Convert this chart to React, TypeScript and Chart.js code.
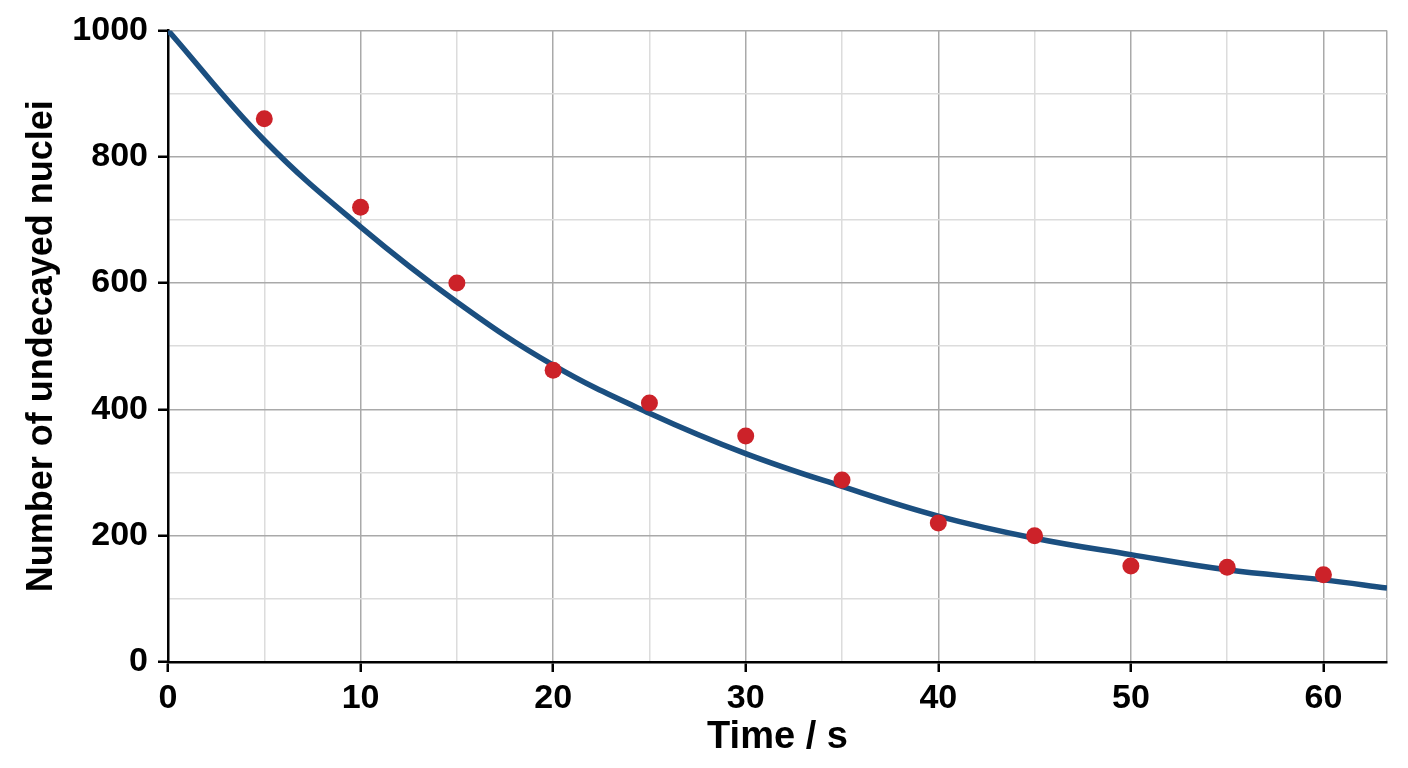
import { useEffect, useRef } from 'react';
import { Chart, registerables } from 'chart.js';

Chart.register(...registerables);

// measured decay (red dots)
const sampleTimes = [5, 10, 15, 20, 25, 30, 35, 40, 45, 50, 55, 60];
const sampleCounts = [860, 720, 600, 462, 410, 358, 288, 220, 200, 152, 150, 138];

// fitted curve
const curveTimes = [0, 5, 10, 15, 20, 25, 30, 35, 40, 45, 50, 55, 60, 63.3];
const curveCounts = [1000, 826, 689, 570, 470, 394, 330, 278, 231, 196, 170, 146, 130, 117];

const xTicks = [0, 5, 10, 15, 20, 25, 30, 35, 40, 45, 50, 55, 60];
const yTicks = [0, 100, 200, 300, 400, 500, 600, 700, 800, 900, 1000];
const xMax = 63.3;
const yMax = 1000;

const FONT = "'Liberation Sans', Arial, Helvetica, sans-serif";
const MAJOR = '#a9a9a9';
const MINOR = '#dcdcdc';

export default function App() {
  const canvasRef = useRef<HTMLCanvasElement>(null);

  useEffect(() => {
    if (!canvasRef.current) return;
    const ctx = canvasRef.current.getContext('2d');
    if (!ctx) return;

    const isMajorX = (v: number) => v % 10 === 0;
    const isMajorY = (v: number) => v % 200 === 0;

    const chart = new Chart(ctx, {
      type: 'scatter',
      data: {
        datasets: [
          {
            label: 'Measured',
            data: sampleTimes.map((t, i) => ({ x: t, y: sampleCounts[i] })),
            backgroundColor: '#cc2229',
            borderWidth: 0,
            pointRadius: 8.5,
            order: 0,
          },
          {
            label: 'Fit',
            data: curveTimes.map((t, i) => ({ x: t, y: curveCounts[i] })),
            showLine: true,
            borderColor: '#1b4f80',
            borderWidth: 5.5,
            pointRadius: 0,
            tension: 0.4,
            order: 1,
          },
        ],
      },
      options: {
        animation: false,
        responsive: false,
        maintainAspectRatio: false,
        layout: { padding: { top: 30, right: 21, left: 0, bottom: 0 } },
        plugins: {
          legend: { display: false },
          tooltip: { enabled: false },
        },
        scales: {
          x: {
            type: 'linear',
            min: 0,
            max: xMax,
            afterBuildTicks: (axis: any) => {
              axis.ticks = [...xTicks.map((v) => ({ value: v })), { value: xMax }];
            },
            afterFit: (axis: any) => {
              axis.height = 106;
            },
            border: { color: '#000', width: 2.5 },
            grid: {
              color: (c: any) => (isMajorX(c.tick.value) || c.tick.value === xMax ? MAJOR : MINOR),
              lineWidth: 1.5,
              tickLength: 10,
              tickWidth: 2.5,
              tickColor: (c: any) => (isMajorX(c.tick.value) ? '#000' : 'rgba(0,0,0,0)'),
            },
            ticks: {
              color: '#000',
              padding: 6,
              maxRotation: 0,
              autoSkip: false,
              font: { family: FONT, size: 34, weight: 'bold' },
              callback: (v: any) => (isMajorX(Number(v)) ? String(v) : ''),
            },
            title: {
              display: true,
              text: 'Time / s',
              color: '#000',
              padding: { top: 0, bottom: 8 },
              font: { family: FONT, size: 38, weight: 'bold' },
            },
          },
          y: {
            type: 'linear',
            min: 0,
            max: yMax,
            afterBuildTicks: (axis: any) => {
              axis.ticks = yTicks.map((v) => ({ value: v }));
            },
            afterFit: (axis: any) => {
              axis.width = 168;
            },
            border: { color: '#000', width: 2.5 },
            grid: {
              color: (c: any) => (isMajorY(c.tick.value) ? MAJOR : MINOR),
              lineWidth: 1.5,
              tickLength: 10,
              tickWidth: 2.5,
              tickColor: (c: any) => (isMajorY(c.tick.value) ? '#000' : 'rgba(0,0,0,0)'),
            },
            ticks: {
              color: '#000',
              padding: 10,
              autoSkip: false,
              font: { family: FONT, size: 34, weight: 'bold' },
              callback: (v: any) => (isMajorY(Number(v)) ? String(v) : ''),
            },
            title: {
              display: true,
              text: 'Number of undecayed nuclei',
              color: '#000',
              padding: { top: 20, bottom: 0 },
              font: { family: FONT, size: 36, weight: 'bold' },
            },
          },
        },
      },
    });

    return () => {
      chart.destroy();
    };
  }, []);

  return (
    <div style={{ position: 'absolute', left: 0, top: 0, width: 1408, height: 768, background: '#fff' }}>
      <canvas ref={canvasRef} width={1408} height={768} style={{ width: 1408, height: 768 }} />
    </div>
  );
}
